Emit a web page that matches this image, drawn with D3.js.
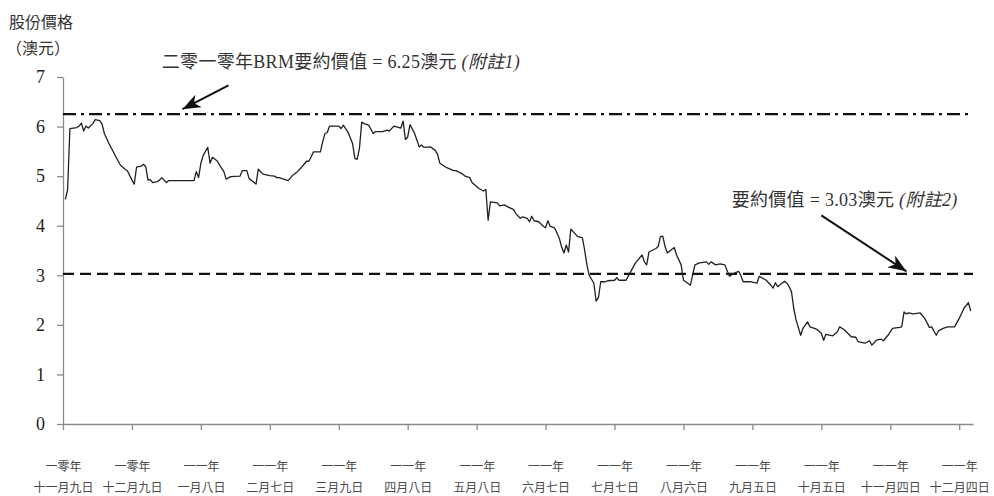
<!DOCTYPE html>
<html>
<head>
<meta charset="utf-8">
<script src="https://cdn.jsdelivr.net/npm/d3@7"></script>
<style>
  html, body { margin: 0; padding: 0; background: #fff; }
  svg { display: block; }
</style>
</head>
<body>
<svg id="chart" width="994" height="496"></svg>
<script>
// ---------------- data ----------------
const dates = [
"2010-11-10","2010-11-11","2010-11-12","2010-11-15","2010-11-16","2010-11-17","2010-11-18","2010-11-19","2010-11-20","2010-11-22",
"2010-11-23","2010-11-25","2010-11-26","2010-11-27","2010-11-29","2010-12-02","2010-12-04","2010-12-06","2010-12-07","2010-12-09",
"2010-12-10","2010-12-11","2010-12-13","2010-12-14","2010-12-15","2010-12-16","2010-12-17","2010-12-18","2010-12-20","2010-12-21",
"2010-12-22","2010-12-24","2010-12-25","2011-01-05","2011-01-06","2011-01-07","2011-01-08","2011-01-09","2011-01-11","2011-01-12",
"2011-01-13","2011-01-15","2011-01-17","2011-01-18","2011-01-19","2011-01-21","2011-01-25","2011-01-26","2011-01-28","2011-01-29",
"2011-02-01","2011-02-02","2011-02-04","2011-02-07","2011-02-09","2011-02-10","2011-02-11","2011-02-13","2011-02-15","2011-02-17",
"2011-02-19","2011-02-21","2011-02-23","2011-02-24","2011-02-25","2011-02-26","2011-03-01","2011-03-02","2011-03-03","2011-03-04",
"2011-03-05","2011-03-09","2011-03-10","2011-03-11","2011-03-13","2011-03-15","2011-03-16","2011-03-17","2011-03-18","2011-03-19",
"2011-03-20","2011-03-22","2011-03-24","2011-03-25","2011-03-28","2011-03-30","2011-03-31","2011-04-02","2011-04-05","2011-04-06",
"2011-04-07","2011-04-08","2011-04-09","2011-04-11","2011-04-12","2011-04-13","2011-04-14","2011-04-15","2011-04-18","2011-04-20",
"2011-04-21","2011-04-22","2011-04-25","2011-04-28","2011-04-29","2011-05-02","2011-05-03","2011-05-05","2011-05-06","2011-05-09",
"2011-05-11","2011-05-12","2011-05-13","2011-05-14","2011-05-17","2011-05-18","2011-05-20","2011-05-22","2011-05-24","2011-05-25",
"2011-05-27","2011-05-28","2011-05-30","2011-05-31","2011-06-01","2011-06-02","2011-06-04","2011-06-06","2011-06-07","2011-06-08",
"2011-06-09","2011-06-11","2011-06-13","2011-06-14","2011-06-15","2011-06-16","2011-06-17","2011-06-18","2011-06-19","2011-06-21",
"2011-06-23","2011-06-24","2011-06-25","2011-06-26","2011-06-28","2011-06-29","2011-06-30","2011-07-01","2011-07-03","2011-07-04",
"2011-07-07","2011-07-08","2011-07-09","2011-07-12","2011-07-14","2011-07-16","2011-07-19","2011-07-20","2011-07-21","2011-07-22",
"2011-07-25","2011-07-26","2011-07-27","2011-07-28","2011-07-29","2011-07-30","2011-07-31","2011-08-02","2011-08-03","2011-08-05",
"2011-08-06","2011-08-07","2011-08-09","2011-08-11","2011-08-13","2011-08-16","2011-08-17","2011-08-18","2011-08-20","2011-08-22",
"2011-08-24","2011-08-26","2011-08-28","2011-08-30","2011-08-31","2011-09-01","2011-09-04","2011-09-07","2011-09-08","2011-09-11",
"2011-09-13","2011-09-14","2011-09-15","2011-09-16","2011-09-19","2011-09-20","2011-09-21","2011-09-22","2011-09-23","2011-09-24",
"2011-09-26","2011-09-27","2011-09-29","2011-09-30","2011-10-02","2011-10-03","2011-10-05","2011-10-06","2011-10-07","2011-10-09",
"2011-10-10","2011-10-12","2011-10-13","2011-10-15","2011-10-18","2011-10-20","2011-10-21","2011-10-24","2011-10-26","2011-10-27",
"2011-10-29","2011-10-31","2011-11-01","2011-11-03","2011-11-05","2011-11-08","2011-11-09","2011-11-10","2011-11-11","2011-11-12",
"2011-11-14","2011-11-17","2011-11-19","2011-11-21","2011-11-22","2011-11-24","2011-11-25","2011-11-27","2011-11-29","2011-12-02",
"2011-12-04","2011-12-06","2011-12-08","2011-12-09"
];
const prices = [
4.53,4.72,5.96,5.98,6.01,6.07,5.91,6.01,5.97,6.06,
6.14,6.12,6.05,5.86,5.66,5.39,5.22,5.14,5.11,4.92,
4.84,5.18,5.20,5.24,5.19,4.92,4.93,4.87,4.89,4.92,
4.97,4.87,4.91,4.91,5.09,4.97,5.26,5.42,5.58,5.26,
5.38,5.31,5.16,5.09,4.94,4.99,5.00,5.11,5.11,4.95,
4.84,5.14,5.04,5.01,5.00,4.97,4.97,4.94,4.91,5.02,
5.09,5.19,5.30,5.30,5.39,5.49,5.49,5.69,5.86,5.88,
6.01,6.01,5.96,6.03,5.89,5.66,5.36,5.34,5.56,6.09,
6.06,6.03,5.86,5.90,5.90,5.93,5.91,6.01,5.97,6.11,
5.74,5.79,6.04,5.86,5.73,5.59,5.63,5.58,5.59,5.52,
5.44,5.26,5.17,5.11,5.11,5.04,5.00,4.97,4.87,4.75,
4.70,4.73,4.11,4.48,4.46,4.40,4.42,4.37,4.33,4.25,
4.15,4.18,4.15,4.08,4.19,4.10,4.08,3.99,3.96,4.10,
3.99,3.95,3.74,3.57,3.45,3.61,3.47,3.93,3.88,3.78,
3.76,3.51,3.21,3.00,2.84,2.48,2.55,2.87,2.87,2.89,
2.90,2.95,2.90,2.90,3.07,3.24,3.41,3.27,3.21,3.47,
3.54,3.58,3.78,3.79,3.58,3.45,3.49,3.56,3.41,3.21,
2.90,2.87,2.80,3.21,3.25,3.27,3.22,3.27,3.21,3.23,
3.21,2.98,3.04,3.08,2.99,2.87,2.87,2.84,2.98,2.90,
2.80,2.74,2.85,2.77,2.88,2.84,2.77,2.67,2.33,2.10,
1.79,1.93,2.06,1.96,1.93,1.91,1.83,1.69,1.81,1.79,
1.78,1.86,1.96,1.90,1.76,1.75,1.66,1.63,1.68,1.59,
1.69,1.71,1.68,1.79,1.93,1.95,1.96,2.26,2.22,2.24,
2.22,2.24,2.13,1.95,1.96,1.79,1.88,1.93,1.96,1.96,
2.13,2.33,2.45,2.28
];

const domainDates = ["2010-11-09", "2011-12-10"];
const yTicks = [0, 1, 2, 3, 4, 5, 6, 7];
const tickDates = ["2010-11-09","2010-12-09","2011-01-08","2011-02-07","2011-03-09","2011-04-08",
                   "2011-05-08","2011-06-07","2011-07-07","2011-08-06","2011-09-05","2011-10-05",
                   "2011-11-04","2011-12-04"];
const tickYearLabels = ["一零年","一零年","一一年","一一年","一一年","一一年","一一年","一一年",
                        "一一年","一一年","一一年","一一年","一一年","一一年"];
const tickDayLabels = ["十一月九日","十二月九日","一月八日","二月七日","三月九日","四月八日","五月八日",
                       "六月七日","七月七日","八月六日","九月五日","十月五日","十一月四日","十二月四日"];

const yTitle = ["股份價格", "（澳元）"];
const refValues = [6.25, 3.03];
const refDash = ["13,5,3,5", "11,6"];

// annotations (anchored in data space)
const annoTexts = [["二零一零年BRM要約價值 = 6.25澳元 ", "(附註1)"], ["要約價值 = 3.03澳元 ", "(附註2)"]];
const annoTextPos = [["2010-12-22", 7.18], ["2011-08-27", 4.40]];
const arrowFrom = [["2011-01-20", 6.83], ["2011-10-05", 4.21]];
const arrowTo = [["2010-12-31", 6.35], ["2011-11-11", 3.08]];

// ---------------- drawing ----------------
const parse = d3.timeParse("%Y-%m-%d");
const svg = d3.select("#chart");
const latin = "'Liberation Serif', 'Times New Roman', 'Noto Sans CJK TC', serif";
const cjk = "'Noto Sans CJK TC', 'Noto Sans CJK SC', sans-serif";
const axisColor = "#8a8a8a";
const inkColor = "#231f20";

const x = d3.scaleTime().domain(domainDates.map(parse)).range([63, 973]);
const y = d3.scaleLinear().domain([0, 7]).range([424, 77]);

// y axis
const gy = svg.append("g").attr("transform", `translate(${x.range()[0]},0)`)
  .call(d3.axisLeft(y).tickValues(yTicks).tickSize(6).tickSizeOuter(0).tickPadding(12).tickFormat(d3.format("d")));
gy.select(".domain").attr("stroke", axisColor).attr("stroke-width", 1.3);
gy.selectAll(".tick line").attr("stroke", axisColor).attr("stroke-width", 1.3);
gy.selectAll(".tick text").attr("font-family", latin).attr("font-size", 18).attr("fill", inkColor);

// x axis
const gx = svg.append("g").attr("transform", `translate(0,${y(0)})`)
  .call(d3.axisBottom(x).tickValues(tickDates.map(parse)).tickSize(6).tickSizeOuter(0).tickFormat(""));
gx.select(".domain").attr("stroke", axisColor).attr("stroke-width", 1.3);
gx.selectAll(".tick line").attr("stroke", axisColor).attr("stroke-width", 1.3);
gx.selectAll(".tick text").remove();
gx.selectAll(".tick").each(function(d, i) {
  const t = d3.select(this).append("text")
    .attr("font-family", cjk).attr("font-size", 12).attr("fill", "#4a4a4a")
    .attr("text-anchor", "middle");
  t.append("tspan").attr("x", 0).attr("y", 47).text(tickYearLabels[i]);
  t.append("tspan").attr("x", 0).attr("y", 68).text(tickDayLabels[i]);
});

// y title
svg.append("text").attr("x", 9).attr("y", 28).attr("font-family", cjk).attr("font-size", 16)
  .attr("fill", "#333").text(yTitle[0]);
svg.append("text").attr("x", 6).attr("y", 54).attr("font-family", cjk).attr("font-size", 16)
  .attr("fill", "#333").text(yTitle[1]);

// reference lines
svg.append("g").selectAll("line").data(refValues).join("line")
  .attr("x1", x.range()[0]).attr("x2", x.range()[1])
  .attr("y1", d => y(d)).attr("y2", d => y(d))
  .attr("stroke", "#111").attr("stroke-width", 2.2)
  .attr("stroke-dasharray", (d, i) => refDash[i]);

// price line
const series = dates.map((d, i) => ({ date: parse(d), value: prices[i] }));
svg.append("path").datum(series)
  .attr("fill", "none").attr("stroke", inkColor).attr("stroke-width", 1.3)
  .attr("stroke-linejoin", "round")
  .attr("d", d3.line().x(d => x(d.date)).y(d => y(d.value)));

// arrow marker
svg.append("defs").append("marker")
  .attr("id", "arrow").attr("markerUnits", "userSpaceOnUse")
  .attr("markerWidth", 20).attr("markerHeight", 14)
  .attr("refX", 18).attr("refY", 7).attr("orient", "auto")
  .append("path").attr("d", "M0,0 L18,7 L0,14 L5,7 Z").attr("fill", "#111");

svg.append("g").selectAll("line").data(arrowFrom).join("line")
  .attr("x1", d => x(parse(d[0]))).attr("y1", d => y(d[1]))
  .attr("x2", (d, i) => x(parse(arrowTo[i][0]))).attr("y2", (d, i) => y(arrowTo[i][1]))
  .attr("stroke", "#111").attr("stroke-width", 2)
  .attr("marker-end", "url(#arrow)");

// annotation text
annoTexts.forEach((parts, i) => {
  const t = svg.append("text")
    .attr("x", x(parse(annoTextPos[i][0]))).attr("y", y(annoTextPos[i][1]))
    .attr("font-family", latin).attr("font-size", 18).attr("letter-spacing", 0.3)
    .attr("fill", "#333");
  t.append("tspan").text(parts[0]);
  t.append("tspan").attr("font-style", "italic").text(parts[1]);
});
</script>
</body>
</html>
